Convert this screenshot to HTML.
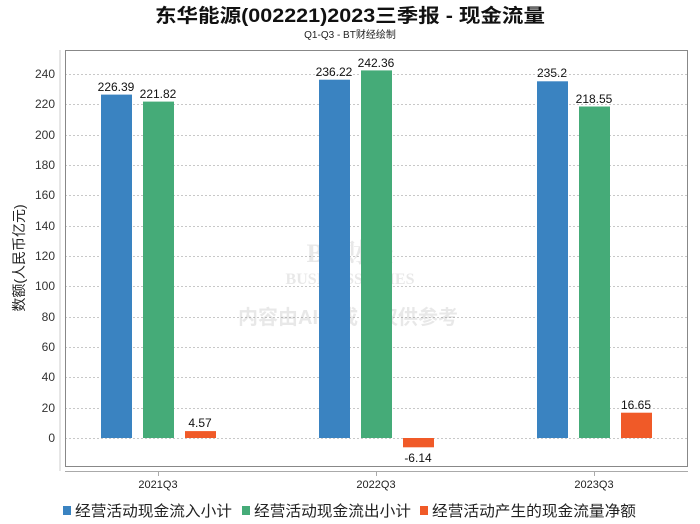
<!DOCTYPE html>
<html><head><meta charset="utf-8"><style>body{margin:0;background:#fff}svg{display:block}</style></head>
<body>
<svg width="700" height="524" xmlns="http://www.w3.org/2000/svg" font-family="'Liberation Sans','Noto Sans CJK SC',sans-serif">
<rect width="700" height="524" fill="#fff"/>
<text x="350" y="22" text-anchor="middle" font-size="19" font-weight="bold" fill="#111" textLength="390" lengthAdjust="spacingAndGlyphs">东华能源(002221)2023三季报 - 现金流量</text>
<text x="350" y="38" text-anchor="middle" font-size="10" fill="#222">Q1-Q3 - BT财经绘制</text>
<g stroke="#c8c8c8" stroke-dasharray="2,2" stroke-width="1">
<line x1="65" x2="688" y1="438.5" y2="438.5"/><line x1="65" x2="688" y1="408.5" y2="408.5"/><line x1="65" x2="688" y1="377.5" y2="377.5"/><line x1="65" x2="688" y1="347.5" y2="347.5"/><line x1="65" x2="688" y1="317.5" y2="317.5"/><line x1="65" x2="688" y1="286.5" y2="286.5"/><line x1="65" x2="688" y1="256.5" y2="256.5"/><line x1="65" x2="688" y1="226.5" y2="226.5"/><line x1="65" x2="688" y1="195.5" y2="195.5"/><line x1="65" x2="688" y1="165.5" y2="165.5"/><line x1="65" x2="688" y1="135.5" y2="135.5"/><line x1="65" x2="688" y1="104.5" y2="104.5"/><line x1="65" x2="688" y1="74.5" y2="74.5"/>
</g>
<rect x="65.5" y="50.5" width="622" height="416" fill="none" stroke="#888"/>
<line x1="65" x2="688" y1="471.5" y2="471.5" stroke="#aaa"/>
<line x1="60" x2="60" y1="50" y2="471" stroke="#ccc"/>
<g stroke="#aaa"><line x1="158.5" x2="158.5" y1="471" y2="476"/><line x1="376.5" x2="376.5" y1="471" y2="476"/><line x1="594.5" x2="594.5" y1="471" y2="476"/></g>
<g font-size="12" fill="#333" text-anchor="end">
<text x="55" y="442">0</text><text x="55" y="412">20</text><text x="55" y="381">40</text><text x="55" y="351">60</text><text x="55" y="321">80</text><text x="55" y="290">100</text><text x="55" y="260">120</text><text x="55" y="230">140</text><text x="55" y="199">160</text><text x="55" y="169">180</text><text x="55" y="139">200</text><text x="55" y="108">220</text><text x="55" y="78">240</text>
</g>
<text transform="translate(24,258) rotate(-90)" text-anchor="middle" font-size="14" fill="#222">数额(人民币亿元)</text>
<g opacity="0.13" fill="#555" font-weight="bold" text-anchor="middle">
<text x="350" y="262" font-size="26" font-family="'Liberation Serif','Noto Serif CJK SC',serif">BT财经</text>
<text x="350" y="284" font-size="16" font-family="'Liberation Serif',serif">BUSINESSTIMES</text>
<text x="348" y="324" font-size="20">内容由AI生成，仅供参考</text>
</g>
<g>
<rect x="101" y="94.6" width="31" height="343.4" fill="#3a83c1"/>
<rect x="143" y="101.6" width="31" height="336.4" fill="#45ab78"/>
<rect x="185" y="431.1" width="31" height="6.9" fill="#f05a28"/>
<rect x="319" y="79.7" width="31" height="358.3" fill="#3a83c1"/>
<rect x="361" y="70.4" width="31" height="367.6" fill="#45ab78"/>
<rect x="403" y="438" width="31" height="9.3" fill="#f05a28"/>
<rect x="537" y="81.3" width="31" height="356.7" fill="#3a83c1"/>
<rect x="579" y="106.5" width="31" height="331.5" fill="#45ab78"/>
<rect x="621" y="412.7" width="31" height="25.3" fill="#f05a28"/>
</g>
<g font-size="12" fill="#111" text-anchor="middle">
<text x="116" y="91">226.39</text><text x="158" y="98">221.82</text><text x="200" y="427">4.57</text>
<text x="334" y="76">236.22</text><text x="376" y="67">242.36</text><text x="418" y="462">-6.14</text>
<text x="552" y="77">235.2</text><text x="594" y="103">218.55</text><text x="636" y="409">16.65</text>
</g>
<g font-size="11" fill="#222" text-anchor="middle">
<text x="158" y="488">2021Q3</text><text x="376" y="488">2022Q3</text><text x="594" y="488">2023Q3</text>
</g>
<g font-size="15" fill="#222">
<rect x="63" y="506" width="8" height="9" fill="#3a83c1"/><text x="75" y="516" textLength="157" lengthAdjust="spacingAndGlyphs">经营活动现金流入小计</text>
<rect x="242" y="506" width="8" height="9" fill="#45ab78"/><text x="254" y="516" textLength="157" lengthAdjust="spacingAndGlyphs">经营活动现金流出小计</text>
<rect x="420" y="506" width="8" height="9" fill="#f05a28"/><text x="432" y="516" textLength="204" lengthAdjust="spacingAndGlyphs">经营活动产生的现金流量净额</text>
</g>
</svg>
</body></html>
